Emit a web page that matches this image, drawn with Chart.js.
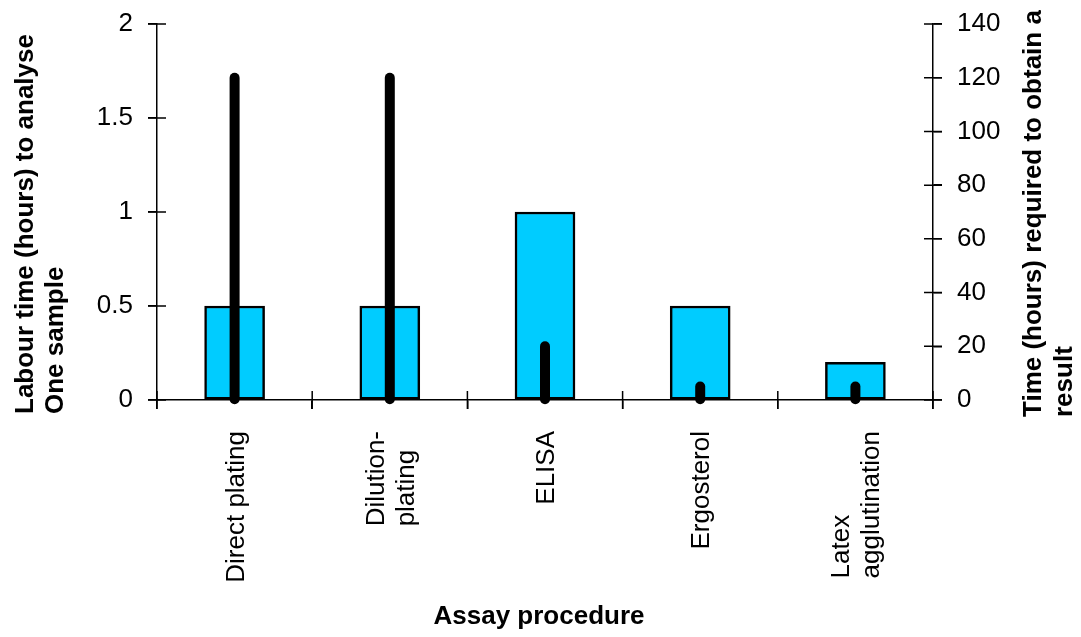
<!DOCTYPE html>
<html>
<head>
<meta charset="utf-8">
<script src="https://cdn.jsdelivr.net/npm/chart.js@4/dist/chart.umd.min.js"></script>
<style>
  html, body { margin: 0; padding: 0; background: #fff; }
  #wrap { width: 1081px; height: 637px; position: relative; }
</style>
</head>
<body>
<div id="wrap"><canvas id="c" width="1081" height="637"></canvas></div>
<script>
// Assay procedures and their time requirements
const categories = [['Direct plating'], ['Dilution-', 'plating'], ['ELISA'], ['Ergosterol'], ['Latex', 'agglutination']];
const labourHours = [0.5, 0.5, 1, 0.5, 0.2];      // left axis: labour per sample
const resultHours = [120, 120, 20, 5, 5];         // right axis: time to obtain a result
const leftTickValues = [0, 0.5, 1, 1.5, 2];
const rightTickValues = [0, 20, 40, 60, 80, 100, 120, 140];

const FONT = '"Liberation Sans", Arial, Helvetica, sans-serif';
const TICK = 9;

// Thick round-capped lines for the result-time series
const stickPlugin = {
  id: 'sticks',
  afterDatasetsDraw(chart) {
    const meta = chart.getDatasetMeta(1);
    const ctx = chart.ctx;
    ctx.save();
    ctx.strokeStyle = '#000';
    ctx.lineWidth = 10;
    ctx.lineCap = 'round';
    meta.data.forEach(el => {
      ctx.beginPath();
      ctx.moveTo(el.x, el.base);
      ctx.lineTo(el.x, el.y);
      ctx.stroke();
    });
    ctx.restore();
  }
};

// Write text rotated to read bottom-to-top, starting at (x, y)
function upText(ctx, text, x, y) {
  ctx.save();
  ctx.translate(x, y);
  ctx.rotate(-Math.PI / 2);
  ctx.textAlign = 'left';
  ctx.textBaseline = 'alphabetic';
  ctx.fillText(text, 0, 0);
  ctx.restore();
}

// Crossing tick marks, category labels and axis titles
const axisPlugin = {
  id: 'axisDecor',
  afterDraw(chart) {
    const ctx = chart.ctx;
    const a = chart.chartArea;
    const sx = chart.scales.x, sy = chart.scales.y, sy2 = chart.scales.y2;
    ctx.save();
    ctx.strokeStyle = '#000';
    ctx.lineWidth = 1.5;
    ctx.beginPath();
    leftTickValues.forEach(v => {
      const p = sy.getPixelForValue(v);
      ctx.moveTo(a.left - TICK, p); ctx.lineTo(a.left + TICK, p);
    });
    rightTickValues.forEach(v => {
      const p = sy2.getPixelForValue(v);
      ctx.moveTo(a.right - TICK, p); ctx.lineTo(a.right + TICK, p);
    });
    const half = (sx.getPixelForValue(1) - sx.getPixelForValue(0)) / 2;
    for (let i = 0; i <= categories.length; i++) {
      const p = sx.getPixelForValue(i) - half;
      ctx.moveTo(p, a.bottom - TICK); ctx.lineTo(p, a.bottom + TICK);
    }
    ctx.stroke();

    ctx.fillStyle = '#000';

    // category labels: block ends just below the axis, lines share a common start
    ctx.font = '26px ' + FONT;
    const lineGap = 30;
    categories.forEach((lines, i) => {
      const cx = sx.getPixelForValue(i);
      const longest = Math.max(...lines.map(t => ctx.measureText(t).width));
      const startY = a.bottom + 31 + longest;
      lines.forEach((t, j) => {
        const bx = cx + 9 + (j - (lines.length - 1) / 2) * lineGap;
        upText(ctx, t, bx, startY);
      });
    });

    ctx.font = 'bold 26px ' + FONT;
    ctx.textBaseline = 'middle';
    ctx.textAlign = 'center';
    ctx.fillText('Assay procedure', 539, 617);

    upText(ctx, 'Labour time (hours) to analyse', 33, 414);
    upText(ctx, 'One sample', 63, 414);
    upText(ctx, 'Time (hours) required to obtain a', 1041, 417);
    upText(ctx, 'result', 1072, 417);
    ctx.restore();
  }
};

// Keep the value axes from adding extra room above and below the plot
function fixVertical(width) {
  return s => { s.width = width; s.paddingTop = 0; s.paddingBottom = 0; };
}

new Chart(document.getElementById('c'), {
  type: 'bar',
  data: {
    labels: categories,
    datasets: [
      {
        data: labourHours,
        yAxisID: 'y',
        backgroundColor: '#00CCFF',
        borderColor: '#000',
        borderWidth: 2.5,
        borderSkipped: false,
        barThickness: 60,
        grouped: false
      },
      {
        data: resultHours,
        yAxisID: 'y2',
        backgroundColor: 'rgba(0,0,0,0)',
        borderWidth: 0,
        barThickness: 10,
        grouped: false
      }
    ]
  },
  options: {
    responsive: false,
    animation: false,
    events: [],
    layout: { padding: { left: 90, right: 70, top: 24, bottom: 60 } },
    plugins: { legend: { display: false }, tooltip: { enabled: false } },
    scales: {
      x: {
        offset: true,
        grid: { display: true, drawOnChartArea: false, offset: true, color: '#000', lineWidth: 1.5, tickLength: TICK },
        border: { display: true, color: '#000', width: 1.5 },
        ticks: { display: false },
        afterFit(s) { s.height = 177; s.paddingLeft = 0; s.paddingRight = 0; }
      },
      y: {
        position: 'left',
        min: 0, max: 2,
        afterBuildTicks(s) { s.ticks = leftTickValues.map(v => ({ value: v })); },
        grid: { display: true, drawOnChartArea: false, color: '#000', lineWidth: 1.5, tickLength: TICK },
        border: { display: true, color: '#000', width: 1.5 },
        ticks: { color: '#000', font: { family: FONT, size: 26 }, padding: 15, callback: v => String(v) },
        afterFit: fixVertical(67)
      },
      y2: {
        position: 'right',
        min: 0, max: 140,
        afterBuildTicks(s) { s.ticks = rightTickValues.map(v => ({ value: v })); },
        grid: { display: true, drawOnChartArea: false, color: '#000', lineWidth: 1.5, tickLength: TICK },
        border: { display: true, color: '#000', width: 1.5 },
        ticks: { color: '#000', font: { family: FONT, size: 26 }, padding: 15, callback: v => String(v) },
        afterFit: fixVertical(78)
      }
    }
  },
  plugins: [stickPlugin, axisPlugin]
});
</script>
</body>
</html>
